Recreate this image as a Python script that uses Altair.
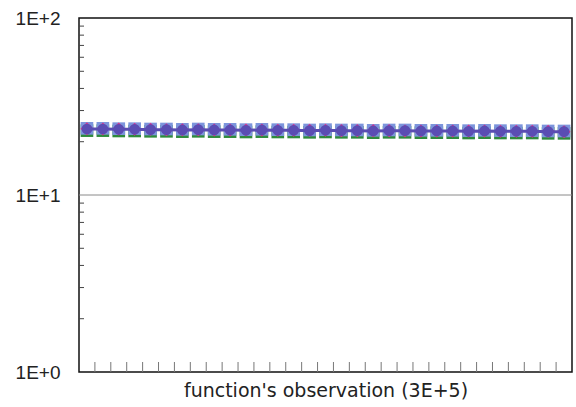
import altair as alt
import pandas as pd

# x positions of the observations (band centres)
obs = [i + 0.5 for i in range(31)]

purple = [23.6, 23.6, 23.5, 23.5, 23.4, 23.4, 23.3, 23.4, 23.3, 23.3, 23.2,
          23.3, 23.2, 23.2, 23.1, 23.2, 23.1, 23.1, 23.0, 23.1, 23.1, 23.0,
          23.0, 23.0, 22.9, 23.0, 22.9, 22.9, 22.9, 22.8, 22.8]
magenta = [23.7, 23.6, 23.6, 23.5, 23.5, 23.4, 23.4, 23.4, 23.3, 23.3, 23.3,
           23.3, 23.2, 23.2, 23.2, 23.2, 23.1, 23.1, 23.1, 23.1, 23.0, 23.0,
           23.0, 23.0, 23.0, 23.0, 22.9, 22.9, 22.9, 22.9, 22.8]
blue = [23.8, 23.8, 23.7, 23.7, 23.6, 23.6, 23.5, 23.6, 23.5, 23.5, 23.4,
        23.5, 23.4, 23.4, 23.3, 23.4, 23.3, 23.3, 23.2, 23.3, 23.3, 23.2,
        23.2, 23.2, 23.1, 23.2, 23.1, 23.1, 23.1, 23.0, 23.0]
green = [23.1, 23.1, 23.0, 23.0, 22.9, 22.9, 22.8, 22.9, 22.8, 22.8, 22.7,
         22.8, 22.7, 22.7, 22.6, 22.7, 22.6, 22.6, 22.5, 22.6, 22.6, 22.5,
         22.5, 22.5, 22.4, 22.5, 22.4, 22.4, 22.4, 22.3, 22.3]

y_minor_ticks = [2, 3, 4, 5, 6, 7, 8, 9, 20, 30, 40, 50, 60, 70, 80, 90]
y_grid = [10]
y_label_values = [1, 10, 100]
x_ticks = list(range(1, 31))
x_title = "function's observation (3E+5)"

W, H = 493, 354

df = pd.DataFrame({"x": obs, "purple": purple, "magenta": magenta,
                   "blue": blue, "green": green})

xs = alt.Scale(domain=[0, 31], nice=False, zero=False)
ys = alt.Scale(type="log", domain=[1, 100], nice=False)

base = alt.Chart(df)

xenc = alt.X("x:Q", scale=xs,
             axis=alt.Axis(title=x_title, labels=False, ticks=False, domain=False,
                           grid=False, titleFont="DejaVu Sans", titleFontSize=19,
                           titleFontWeight="normal", titleColor="#222",
                           titlePadding=9))

yaxis = alt.Axis(title=None, values=y_label_values, ticks=False, domain=False,
                 grid=False, labelFont="Liberation Sans", labelFontSize=19,
                 labelColor="#222", labelPadding=19,
                 labelExpr="'1E+' + format(round(log(datum.value)/LN10), 'd')")

grid = alt.Chart(pd.DataFrame({"v": y_grid})).mark_rule(
    color="#8a8a8a", strokeWidth=1).encode(
    y=alt.Y("v:Q", scale=ys, axis=yaxis))

yticks = alt.Chart(pd.DataFrame({"v": y_minor_ticks})).mark_rule(
    color="#444", strokeWidth=1).encode(
    y=alt.Y("v:Q", scale=ys), x=alt.value(0), x2=alt.value(5))

xticks = alt.Chart(pd.DataFrame({"t": x_ticks})).mark_rule(
    color="#777", strokeWidth=1).encode(
    x=alt.X("t:Q", scale=xs), y=alt.value(H), y2=alt.value(H - 10))

green_pts = base.mark_square(size=160, color="#2f8a3c", opacity=1).encode(
    x=xenc, y=alt.Y("green:Q", scale=ys))
blue_pts = base.mark_square(size=160, color="#7c95dc", opacity=1).encode(
    x=xenc, y=alt.Y("blue:Q", scale=ys))
mag_pts = base.mark_point(shape="diamond", size=170, filled=True,
                          color="#e0308a", opacity=1).encode(
    x=xenc, y=alt.Y("magenta:Q", scale=ys))
line = base.mark_line(color="#5a4db3", strokeWidth=3).encode(
    x=xenc, y=alt.Y("purple:Q", scale=ys))
circ = base.mark_circle(size=115, color="#5a4db3", opacity=1).encode(
    x=xenc, y=alt.Y("purple:Q", scale=ys))

chart = alt.layer(grid, yticks, xticks, green_pts, blue_pts, mag_pts, line, circ).properties(
    width=W, height=H,
    autosize=alt.AutoSizeParams(type="none"),
    padding={"left": 79, "top": 18, "right": 4, "bottom": 35},
    background="white",
).configure_view(stroke="#111", strokeWidth=1.5)

chart.save("out.html", embed_options={"renderer": "svg", "actions": False})
